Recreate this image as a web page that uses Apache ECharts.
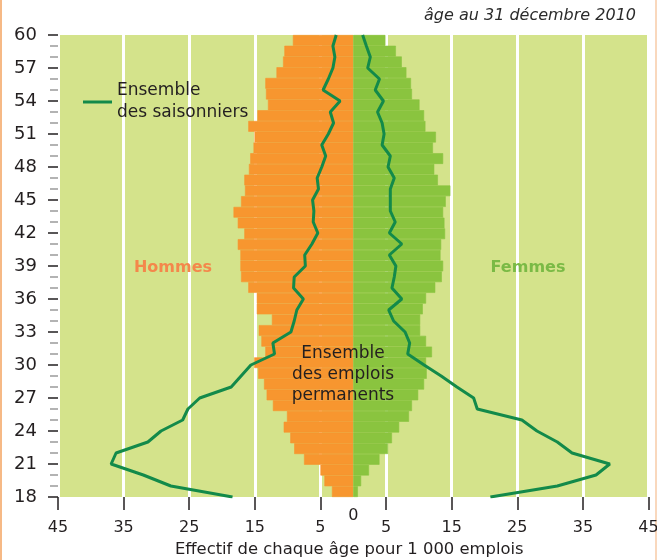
<!DOCTYPE html>
<html><head><meta charset="utf-8">
<script src="https://cdn.jsdelivr.net/npm/echarts@6/dist/echarts.min.js"></script>
<style>html,body{margin:0;padding:0;background:#fff}#c{width:657px;height:560px}</style>
</head><body><div id="c"></div>
<script>
// ages 18..60
const ages = [18,19,20,21,22,23,24,25,26,27,28,29,30,31,32,33,34,35,36,37,38,39,40,41,42,43,44,45,46,47,48,49,50,51,52,53,54,55,56,57,58,59,60];
// Ensemble des emplois permanents (effectif pour 1 000 emplois)
const hommesPermanents = [3.25,4.4,5.0,7.5,9.0,9.6,10.6,10.1,12.25,13.2,13.6,14.5,15.1,13.4,14.0,14.4,12.4,14.7,14.7,16.0,17.1,17.2,17.2,17.6,16.6,17.6,18.25,17.1,16.5,16.6,15.9,15.7,15.2,15.05,16.0,14.6,13.0,13.3,13.4,11.7,10.7,10.5,9.2];
const femmesPermanents = [0.7,1.2,2.4,4.0,5.3,5.9,7.0,8.5,8.95,9.9,10.8,11.2,11.1,12.0,11.1,10.2,10.2,10.6,11.1,12.5,13.5,13.7,13.3,13.4,14.0,13.9,13.7,14.1,14.8,12.9,12.35,13.7,12.15,12.6,11.0,10.8,10.1,8.95,8.8,8.1,7.4,6.5,4.9];
// Ensemble des saisonniers
const hommesSaisonniers = [18.4,27.8,32.0,36.9,36.15,31.3,29.3,26.0,25.2,23.4,18.6,17.1,15.6,12.0,12.25,9.5,9.0,8.6,7.6,9.1,9.0,7.3,7.4,6.3,5.4,6.1,6.0,6.2,5.3,5.5,4.8,4.2,4.8,3.8,3.0,3.5,2.0,4.6,3.8,3.1,2.8,3.1,2.6];
const femmesSaisonniers = [20.9,31.1,37.0,39.1,33.35,31.1,28.0,25.7,18.9,18.35,15.8,13.4,10.8,8.3,8.6,7.9,6.15,5.4,7.4,5.9,6.25,6.5,5.5,7.4,5.5,6.4,5.65,5.65,5.65,6.25,5.3,5.65,4.4,4.7,4.4,3.7,4.6,3.35,4.0,2.2,2.6,2.0,1.43];
const xTickValues = [-45,-35,-25,-15,-5,5,15,25,35,45];
const legendName = 'Ensemble\ndes saisonniers';

const FONT = 'DejaVu Sans';
const TXT = '#231f20';
const BG = '#d4e38b';
const chart = echarts.init(document.getElementById('c'), null, {renderer:'canvas'});
chart.setOption({
  animation:false,
  backgroundColor:'#ffffff',
  textStyle:{fontFamily:FONT},
  grid:{left:58, right:8.5, top:35, bottom:63, show:true, backgroundColor:BG, borderWidth:0, outerBoundsMode:'none'},
  legend:{
    data:[{name:legendName, icon:'rect'}],
    left:83, top:80, padding:0, itemWidth:29, itemHeight:3, selectedMode:false,
    textStyle:{fontFamily:FONT, fontSize:17, lineHeight:22, color:TXT}
  },
  xAxis:[{
    type:'value', min:-45, max:45,
    axisLine:{show:false, onZero:false},
    axisTick:{show:true, customValues:xTickValues, length:13, lineStyle:{color:TXT, width:1.5}},
    axisLabel:{customValues:xTickValues, formatter:v=>String(Math.abs(v)), fontFamily:FONT, fontSize:16, color:TXT, margin:23},
    splitLine:{show:true, lineStyle:{color:'#ffffff', width:3}},
    name:'Effectif de chaque âge pour 1 000 emplois', nameLocation:'middle', nameGap:45,
    nameTextStyle:{fontFamily:FONT, fontSize:16.4, color:TXT, padding:[0,8,0,0]}
  },{
    type:'value', min:-45, max:45, position:'bottom',
    axisLine:{show:false, onZero:false}, axisTick:{show:false}, splitLine:{show:false},
    axisLabel:{customValues:[0], formatter:v=>String(v), fontFamily:FONT, fontSize:16, color:TXT, margin:11}
  }],
  yAxis:[{
    type:'value', min:18, max:60, interval:3, position:'left',
    axisLine:{show:false, onZero:false},
    axisTick:{show:true, length:10, lineStyle:{color:TXT, width:1.5}},
    minorTick:{show:true, splitNumber:3, length:8, lineStyle:{color:'#9a9a9a', width:1.5}},
    splitLine:{show:false},
    axisLabel:{fontFamily:FONT, fontSize:18, color:TXT, margin:21}
  },{
    type:'category', data:ages, show:false, boundaryGap:true, position:'right', axisLine:{onZero:false}
  }],
  graphic:[
    {type:'text', style:{x:636, y:16, text:'âge au 31 décembre 2010', font:'italic 16px "DejaVu Sans"', fill:'#2b2b2b', textAlign:'right', textVerticalAlign:'middle'}},
    {type:'text', z:10, style:{x:173, y:268, text:'Hommes', font:'bold 16px "DejaVu Sans"', fill:'#f4874b', textAlign:'center', textVerticalAlign:'middle'}},
    {type:'text', z:10, style:{x:528, y:268, text:'Femmes', font:'bold 16px "DejaVu Sans"', fill:'#7aba45', textAlign:'center', textVerticalAlign:'middle'}},
    {type:'text', z:10, style:{x:343, y:375, text:'Ensemble\ndes emplois\npermanents', font:'17px "DejaVu Sans"', lineHeight:21, fill:TXT, textAlign:'center', textVerticalAlign:'middle'}},
    {type:'line', shape:{x1:1, y1:0, x2:1, y2:560}, style:{stroke:'#f6b986', lineWidth:2}},
    {type:'line', shape:{x1:656, y1:0, x2:656, y2:560}, style:{stroke:'#f9d8bd', lineWidth:2}}
  ],
  series:[
    {type:'bar', name:'Hommes', xAxisIndex:0, yAxisIndex:1, data:hommesPermanents.map(v=>-v), barWidth:'100%', barGap:'-100%', silent:true, z:2,
      itemStyle:{color:'#f7962f', borderColor:'#f7962f', borderWidth:0.6}},
    {type:'bar', name:'Femmes', xAxisIndex:0, yAxisIndex:1, data:femmesPermanents, barWidth:'100%', barGap:'-100%', silent:true, z:2,
      itemStyle:{color:'#8ac43f', borderColor:'#8ac43f', borderWidth:0.6}},
    {type:'line', name:legendName, xAxisIndex:0, yAxisIndex:0, data:ages.map((a,i)=>[-hommesSaisonniers[i], a]), showSymbol:false, symbol:'none', z:5,
      lineStyle:{color:'#138a4a', width:3}, itemStyle:{color:'#138a4a'}},
    {type:'line', name:legendName, xAxisIndex:0, yAxisIndex:0, data:ages.map((a,i)=>[femmesSaisonniers[i], a]), showSymbol:false, symbol:'none', z:5,
      lineStyle:{color:'#138a4a', width:3}, itemStyle:{color:'#138a4a'}}
  ]
});
</script></body></html>
